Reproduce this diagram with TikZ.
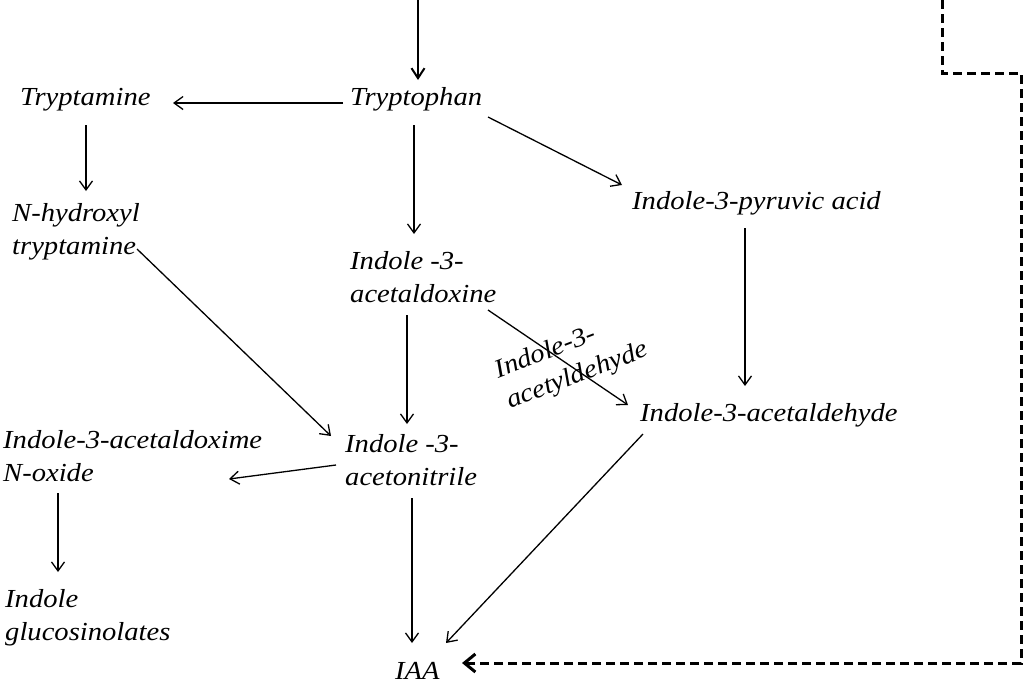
\documentclass[tikz,border=0pt]{standalone}
\usepackage{fontspec}
\setmainfont{Liberation Serif}[FakeStretch=1.1]
\usetikzlibrary{arrows.meta,calc}
\tikzset{
  lbl/.style={anchor=base west, inner sep=0pt, align=left,
    font=\fontsize{26}{33}\selectfont\itshape},
  arr/.style={line width=1.3pt, -{Straight Barb[length=9pt,width=13pt,line width=1.3pt]}},
  arrT/.style={line width=2pt, -{Straight Barb[length=10pt,width=13pt,line width=2pt]}},
  darr/.style={line width=3pt, dash pattern=on 9pt off 5pt,
    -{Straight Barb[length=11pt,width=18pt,line width=3pt]}}
}
\begin{document}
\begin{tikzpicture}[x=1pt,y=-1pt]
\useasboundingbox[fill=white] (0,0) rectangle (1025,681);

% single-line labels: base = baseline; multi-line labels: base = last baseline
\node[lbl] (tpm) at (20,105) {Tryptamine};
\node[lbl] (trp) at (350,105) {Tryptophan};
\node[lbl] (nhy) at (12,254) {N-hydroxyl\\tryptamine};
\node[lbl] (ald) at (350,302) {Indole -3-\\acetaldoxine};
\node[lbl] (pyr) at (632,209) {Indole-3-pyruvic acid};
\node[lbl] (ahy) at (640,421) {Indole-3-acetaldehyde};
\node[lbl] (nit) at (345,485) {Indole -3-\\acetonitrile};
\node[lbl] (nox) at (3,481) {Indole-3-acetaldoxime\\N-oxide};
\node[lbl] (glu) at (5,640) {Indole\\glucosinolates};
\node[lbl] (iaa) at (395,679) {IAA};
\node[lbl, rotate=21] (rot) at (510,409) {Indole-3-\\acetyldehyde};

\coordinate (topin) at (418,0);
\draw[arrT] (topin) -- ($(trp.base west)+(68,-25)$);
\draw[arr] ($(trp.base west)+(-7,-2)$) -- ($(tpm.base west)+(153,-2)$);
\draw[arr] ($(tpm.base west)+(66,20)$) -- ($(nhy.base west)+(74,-63)$);
\draw[arr] ($(trp.base west)+(64,20)$) -- ($(ald.base west)+(64,-68)$);
\draw[arr] ($(trp.base west)+(138,12)$) -- ($(pyr.base west)+(-10,-24)$);
\draw[arr] ($(pyr.base west)+(113,19)$) -- ($(ahy.base west)+(105,-35)$);
\draw[arr] ($(ald.base west)+(138,8)$) -- ($(ahy.base west)+(-12,-16)$);
\draw[arr] ($(ald.base west)+(57,13)$) -- ($(nit.base west)+(62,-61)$);
\draw[arr] ($(nhy.base west)+(125,-5)$) -- ($(nit.base west)+(-14,-49)$);
\draw[arr] ($(nit.base west)+(-9,-20)$) -- ($(nox.base west)+(226,-2)$);
\draw[arr] ($(nox.base west)+(55,12)$) -- ($(glu.base west)+(53,-68)$);
\draw[arr] ($(nit.base west)+(67,13)$) -- ($(iaa.base west)+(17,-36)$);
\draw[arr] ($(ahy.base west)+(3,13)$) -- ($(iaa.base west)+(51,-36)$);

\coordinate (din) at (942,0);
\draw[darr] (din) -- (942,73) -- (1021,73) -- (1021,663) -- ($(iaa.base west)+(67,-16)$);
\end{tikzpicture}
\end{document}
